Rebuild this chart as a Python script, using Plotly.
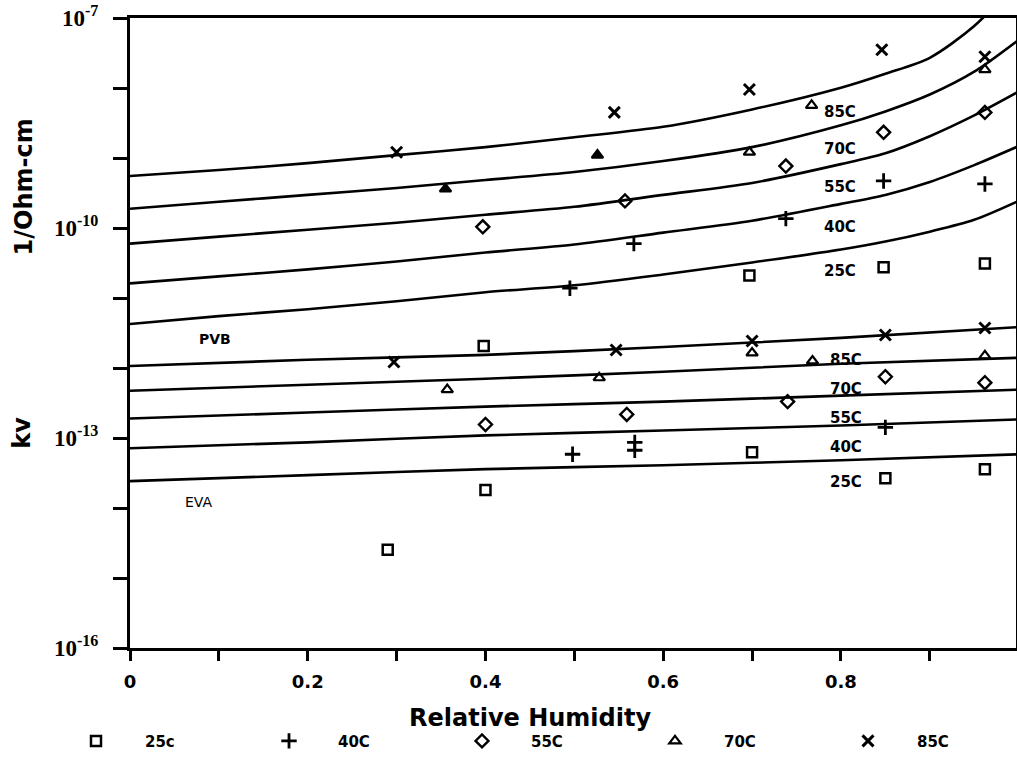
import plotly.graph_objects as go

# ---------------- data ----------------
temps = ["25C", "40C", "55C", "70C", "85C"]
legend_labels = ["25c", "40C", "55C", "70C", "85C"]

# fitted model curves, PVB (upper family)
pvb_rh = [0, 0.1, 0.2, 0.3, 0.4, 0.5, 0.6, 0.7, 0.8, 0.85, 0.9, 0.95, 1.0]
pvb_curve_85 = [5.53e-10, 6.73e-10, 8.45e-10, 1.10e-9, 1.43e-9, 1.98e-9, 2.79e-9, 4.94e-9, 1.01e-8, 1.60e-8, 2.70e-8, 7.69e-8, 3.46e-7]
pvb_curve_70 = [1.88e-10, 2.37e-10, 2.97e-10, 3.73e-10, 4.85e-10, 6.31e-10, 9.04e-10, 1.43e-9, 2.93e-9, 4.63e-9, 8.07e-9, 1.71e-8, 4.88e-8]
pvb_curve_55 = [5.98e-11, 7.53e-11, 9.46e-11, 1.19e-10, 1.55e-10, 2.01e-10, 2.97e-10, 4.40e-10, 8.18e-10, 1.17e-9, 2.05e-9, 4.06e-9, 8.89e-9]
pvb_curve_40 = [1.62e-11, 2.04e-11, 2.56e-11, 3.33e-11, 4.47e-11, 5.80e-11, 8.59e-11, 1.27e-10, 2.21e-10, 2.97e-10, 4.55e-10, 7.92e-10, 1.48e-9]
pvb_curve_25 = [4.24e-12, 5.51e-12, 6.92e-12, 8.99e-12, 1.21e-11, 1.52e-11, 2.17e-11, 3.22e-11, 4.92e-11, 6.40e-11, 8.87e-11, 1.31e-10, 2.44e-10]

# fitted model curves, EVA (lower family)
eva_rh = [0, 0.2, 0.4, 0.6, 0.8, 1.0]
eva_curve_85 = [1.07e-12, 1.31e-12, 1.54e-12, 2.00e-12, 2.69e-12, 3.85e-12]
eva_curve_70 = [4.74e-13, 5.77e-13, 7.03e-13, 8.83e-13, 1.15e-12, 1.40e-12]
eva_curve_55 = [1.90e-13, 2.31e-13, 2.81e-13, 3.31e-13, 4.03e-13, 4.90e-13]
eva_curve_40 = [7.13e-14, 8.67e-14, 1.09e-13, 1.28e-13, 1.51e-13, 1.84e-13]
eva_curve_25 = [2.42e-14, 2.95e-14, 3.59e-14, 4.08e-14, 4.82e-14, 5.86e-14]

# measured points, PVB
pvb_rh_85 = [0.30, 0.545, 0.697, 0.846, 0.962]
pvb_kv_85 = [1.21e-9, 4.48e-9, 9.51e-9, 3.52e-8, 2.79e-8]
pvb_rh_70 = [0.355, 0.526, 0.697, 0.767, 0.962]
pvb_kv_70 = [3.61e-10, 1.10e-9, 1.21e-9, 5.64e-9, 1.83e-8]
pvb_rh_55 = [0.397, 0.557, 0.738, 0.848, 0.962]
pvb_kv_55 = [1.04e-10, 2.44e-10, 7.67e-10, 2.33e-9, 4.48e-9]
pvb_rh_40 = [0.495, 0.567, 0.738, 0.848, 0.962]
pvb_kv_40 = [1.38e-11, 5.98e-11, 1.36e-10, 4.70e-10, 4.26e-10]
pvb_rh_25 = [0.398, 0.697, 0.848, 0.962]
pvb_kv_25 = [2.07e-12, 2.10e-11, 2.74e-11, 3.11e-11]

# measured points, EVA
eva_rh_85 = [0.297, 0.547, 0.70, 0.85, 0.962]
eva_kv_85 = [1.22e-12, 1.81e-12, 2.43e-12, 2.96e-12, 3.72e-12]
eva_rh_70 = [0.357, 0.528, 0.70, 0.768, 0.962]
eva_kv_70 = [4.91e-13, 7.26e-13, 1.64e-12, 1.26e-12, 1.49e-12]
eva_rh_55 = [0.40, 0.559, 0.74, 0.85, 0.962]
eva_kv_55 = [1.56e-13, 2.17e-13, 3.31e-13, 7.50e-13, 6.17e-13]
eva_rh_40 = [0.498, 0.568, 0.568, 0.85]
eva_kv_40 = [5.86e-14, 8.67e-14, 6.68e-14, 1.42e-13]
eva_rh_25 = [0.29, 0.40, 0.70, 0.85, 0.962]
eva_kv_25 = [2.54e-15, 1.81e-14, 6.25e-14, 2.67e-14, 3.59e-14]

x_tick_vals = [0, 0.2, 0.4, 0.6, 0.8]
x_tick_text = ["0", "0.2", "0.4", "0.6", "0.8"]
x_minor_vals = [0.1, 0.3, 0.5, 0.7, 0.9]
y_tick_vals = [1e-16, 1e-13, 1e-10, 1e-7]
y_tick_text = ["10<sup>-16</sup>", "10<sup>-13</sup>", "10<sup>-10</sup>", "10<sup>-7</sup>"]
y_minor_vals = [1e-15, 1e-14, 1e-12, 1e-11, 1e-9, 1e-8]

# label positions for the curve tags (RH, log10 kv)
pvb_label_rh = 0.799
pvb_label_log = [-10.620, -9.981, -9.413, -8.874, -8.349]
eva_label_rh = 0.806
eva_label_log = [-13.630, -13.133, -12.721, -12.295, -11.884]

# ---------------- figure ----------------
fig = go.Figure()
LINE = dict(color="black", width=2.6)

for xs, ys in [(pvb_rh, pvb_curve_85), (pvb_rh, pvb_curve_70), (pvb_rh, pvb_curve_55),
               (pvb_rh, pvb_curve_40), (pvb_rh, pvb_curve_25),
               (eva_rh, eva_curve_85), (eva_rh, eva_curve_70), (eva_rh, eva_curve_55),
               (eva_rh, eva_curve_40), (eva_rh, eva_curve_25)]:
    fig.add_trace(go.Scatter(x=xs, y=ys, mode="lines", line=dict(shape="spline", smoothing=0.8, **LINE),
                             showlegend=False, hoverinfo="skip"))

SYM = {"25C": ("square-open", 10, 2.5), "40C": ("cross-thin-open", 11, 2.8),
       "55C": ("diamond-open", 10, 2.4), "70C": ("triangle-up-open", 10, 2.2),
       "85C": ("x-thin-open", 11, 3.0)}

def pts(xs, ys, key, name=None, symbol=None):
    s, size, lw = SYM[key]
    fig.add_trace(go.Scatter(x=xs, y=ys, mode="markers", name=name or key,
                             showlegend=name is not None, legendgroup=key,
                             marker=dict(symbol=symbol or s, size=size, color="black",
                                         line=dict(color="black", width=lw))))

# PVB
pts(pvb_rh_25, pvb_kv_25, "25C")
pts(pvb_rh_40, pvb_kv_40, "40C")
pts(pvb_rh_55, pvb_kv_55, "55C")
pts(pvb_rh_70, pvb_kv_70, "70C",
    symbol=["triangle-up", "triangle-up", "triangle-up-open", "triangle-up-open", "triangle-up-open"])
pts(pvb_rh_85, pvb_kv_85, "85C")
# EVA (these carry the legend entries)
pts(eva_rh_25, eva_kv_25, "25C", legend_labels[0])
pts(eva_rh_40, eva_kv_40, "40C", legend_labels[1])
pts(eva_rh_55, eva_kv_55, "55C", legend_labels[2])
pts(eva_rh_70, eva_kv_70, "70C", legend_labels[3])
pts(eva_rh_85, eva_kv_85, "85C", legend_labels[4])

L, R, T, B, W, H = 130, 1, 18, 109, 1017, 759
PW, PH = W - L - R, H - T - B

ann = []
lab_font = dict(family="DejaVu Sans", size=15, color="black", weight="bold")
for t, ly in zip(temps, pvb_label_log):
    ann.append(dict(x=pvb_label_rh, y=ly, xref="x", yref="y", text=t, showarrow=False,
                    font=lab_font, xanchor="center", yanchor="middle"))
for t, ly in zip(temps, eva_label_log):
    ann.append(dict(x=eva_label_rh, y=ly, xref="x", yref="y", text=t, showarrow=False,
                    font=lab_font, xanchor="center", yanchor="middle"))

ann.append(dict(x=0.0956, y=-11.585, xref="x", yref="y", text="PVB", showarrow=False,
                font=dict(family="DejaVu Sans", size=14, color="black", weight="bold")))
ann.append(dict(x=0.0776, y=-13.914, xref="x", yref="y", text="EVA", showarrow=False,
                font=dict(family="DejaVu Sans", size=14, color="black")))

# axis titles
ann.append(dict(x=(530 - L) / PW, y=(H - B - 720) / PH, xref="paper", yref="paper",
                text="Relative Humidity", showarrow=False, xanchor="center", yanchor="middle",
                font=dict(family="DejaVu Sans", size=24, color="black", weight="bold")))
ann.append(dict(x=(24 - L) / PW, y=(H - B - 188) / PH, xref="paper", yref="paper",
                text="1/Ohm-cm", textangle=-90, showarrow=False, xanchor="center", yanchor="middle",
                font=dict(family="DejaVu Sans", size=24, color="black", weight="bold")))
ann.append(dict(x=(22 - L) / PW, y=(H - B - 434) / PH, xref="paper", yref="paper",
                text="kv", textangle=-90, showarrow=False, xanchor="center", yanchor="middle",
                font=dict(family="DejaVu Sans", size=24, color="black", weight="bold")))

fig.update_layout(
    width=W, height=H,
    margin=dict(l=L, r=R, t=T, b=B, pad=0),
    paper_bgcolor="white", plot_bgcolor="white",
    annotations=ann,
    showlegend=True,
    legend=dict(orientation="h", x=(47 - L) / PW, xanchor="left",
                y=(H - B - 760) / PH, yanchor="bottom",
                itemwidth=88, entrywidth=90, entrywidthmode="pixels",
                bgcolor="rgba(0,0,0,0)", borderwidth=0, traceorder="normal",
                itemclick=False, itemdoubleclick=False,
                font=dict(family="DejaVu Sans", size=15, color="black", weight="bold")),
    xaxis=dict(range=[0, 0.997], showgrid=False, zeroline=False, automargin=False,
               showline=True, mirror=True, linecolor="black", linewidth=3,
               ticks="outside", ticklen=10, tickwidth=3, tickcolor="black",
               tickmode="array", tickvals=x_tick_vals, ticktext=x_tick_text,
               ticklabelstandoff=5,
               minor=dict(tickmode="array", tickvals=x_minor_vals, ticks="outside",
                          ticklen=10, tickwidth=3, tickcolor="black", showgrid=False),
               tickfont=dict(family="DejaVu Sans", size=18, color="black", weight="bold")),
    yaxis=dict(type="log", range=[-16, -7], showgrid=False, zeroline=False, automargin=False,
               showline=True, mirror=True, linecolor="black", linewidth=3,
               ticks="outside", ticklen=14, tickwidth=3, tickcolor="black",
               tickmode="array", tickvals=y_tick_vals, ticktext=y_tick_text,
               ticklabelstandoff=10,
               minor=dict(tickmode="array", tickvals=y_minor_vals, ticks="outside",
                          ticklen=14, tickwidth=3, tickcolor="black", showgrid=False),
               tickfont=dict(family="Liberation Serif", size=23, color="black", weight="bold")),
)

fig.write_html("out.html", config={"displayModeBar": False},
               post_script="document.body.style.margin='0px';document.body.style.overflow='hidden';")
